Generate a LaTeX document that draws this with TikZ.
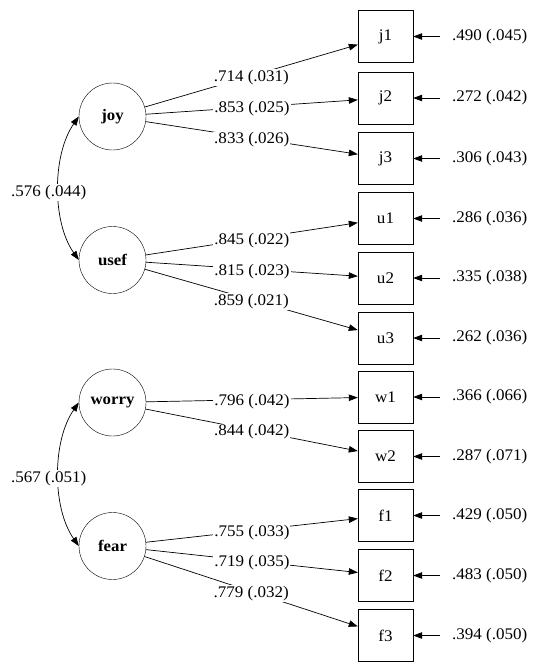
\documentclass[tikz,border=0pt]{standalone}
\usepackage{fontspec}
\setmainfont[FakeStretch=1.05]{Liberation Serif}
\usetikzlibrary{arrows.meta}
\usetikzlibrary{positioning}

\begin{document}
\begin{tikzpicture}[x=1pt,y=-1pt,
  font=\fontsize{16.2}{19}\selectfont,
  latent/.style={circle,draw,minimum size=67pt,inner sep=0pt,font=\fontsize{16}{19}\selectfont\bfseries},
  indic/.style={rectangle,draw,minimum width=55pt,minimum height=52pt,inner sep=0pt},
  load/.style={fill=white,inner sep=1pt,pos=0.5,yshift=-2pt},
  covlbl/.style={fill=white,inner sep=1pt,pos=0.5,xshift=-10pt,yshift=-4pt},
  errlbl/.style={anchor=west,inner xsep=12pt,inner ysep=1pt},
  arr/.style={-{Triangle[length=9pt,width=6.5pt]},line width=0.7pt},
  cov/.style={{Triangle[length=9pt,width=6.5pt]}-{Triangle[length=9pt,width=6.5pt]},line width=0.7pt}]
\useasboundingbox (0,0) rectangle (548,664);

% latent factors
\node[latent] (joy) at (112.5,116.5) {joy};
\node[latent] (usef) at (112.5,260) {usef};
\node[latent] (worry) at (112.5,402.5) {worry};
\node[latent] (fear) at (112.5,546) {fear};

% indicators
\node[indic] (j1) at (385.5,36.5) {j1};
\node[indic] (j2) at (385.5,98) {j2};
\node[indic] (j3) at (385.5,158.5) {j3};
\node[indic] (u1) at (385.5,218.5) {u1};
\node[indic] (u2) at (385.5,278) {u2};
\node[indic] (u3) at (385.5,338) {u3};
\node[indic] (w1) at (385.5,397) {w1};
\node[indic] (w2) at (385.5,456.5) {w2};
\node[indic] (f1) at (385.5,515.5) {f1};
\node[indic] (f2) at (385.5,575.5) {f2};
\node[indic] (f3) at (385.5,635.5) {f3};

% residual variances
\node[errlbl] (ej1) at (440,36.5) {.490 (.045)};
\node[errlbl] (ej2) at (440,98) {.272 (.042)};
\node[errlbl] (ej3) at (440,158.5) {.306 (.043)};
\node[errlbl] (eu1) at (440,218.5) {.286 (.036)};
\node[errlbl] (eu2) at (440,278) {.335 (.038)};
\node[errlbl] (eu3) at (440,338) {.262 (.036)};
\node[errlbl] (ew1) at (440,397) {.366 (.066)};
\node[errlbl] (ew2) at (440,456.5) {.287 (.071)};
\node[errlbl] (ef1) at (440,515.5) {.429 (.050)};
\node[errlbl] (ef2) at (440,575.5) {.483 (.050)};
\node[errlbl] (ef3) at (440,635.5) {.394 (.050)};

\draw[arr] (ej1) -- (j1);
\draw[arr] (ej2) -- (j2);
\draw[arr] (ej3) -- (j3);
\draw[arr] (eu1) -- (u1);
\draw[arr] (eu2) -- (u2);
\draw[arr] (eu3) -- (u3);
\draw[arr] (ew1) -- (w1);
\draw[arr] (ew2) -- (w2);
\draw[arr] (ef1) -- (f1);
\draw[arr] (ef2) -- (f2);
\draw[arr] (ef3) -- (f3);

% loadings
\draw[arr] (joy) -- node[load] {.714 (.031)} (j1);
\draw[arr] (joy) -- node[load] {.853 (.025)} (j2);
\draw[arr] (joy) -- node[load] {.833 (.026)} (j3);
\draw[arr] (usef) -- node[load] {.845 (.022)} (u1);
\draw[arr] (usef) -- node[load] {.815 (.023)} (u2);
\draw[arr] (usef) -- node[load] {.859 (.021)} (u3);
\draw[arr] (worry) -- node[load] {.796 (.042)} (w1);
\draw[arr] (worry) -- node[load] {.844 (.042)} (w2);
\draw[arr] (fear) -- node[load] {.755 (.033)} (f1);
\draw[arr] (fear) -- node[load] {.719 (.035)} (f2);
\draw[arr] (fear) -- node[load] {.779 (.032)} (f3);

% factor correlations
\draw[cov] (joy.west) .. controls (52,155) and (52,222) .. (usef.west) node[covlbl] {.576 (.044)};
\draw[cov] (worry.west) .. controls (52,441) and (52,508) .. (fear.west) node[covlbl] {.567 (.051)};

\end{tikzpicture}
\end{document}
